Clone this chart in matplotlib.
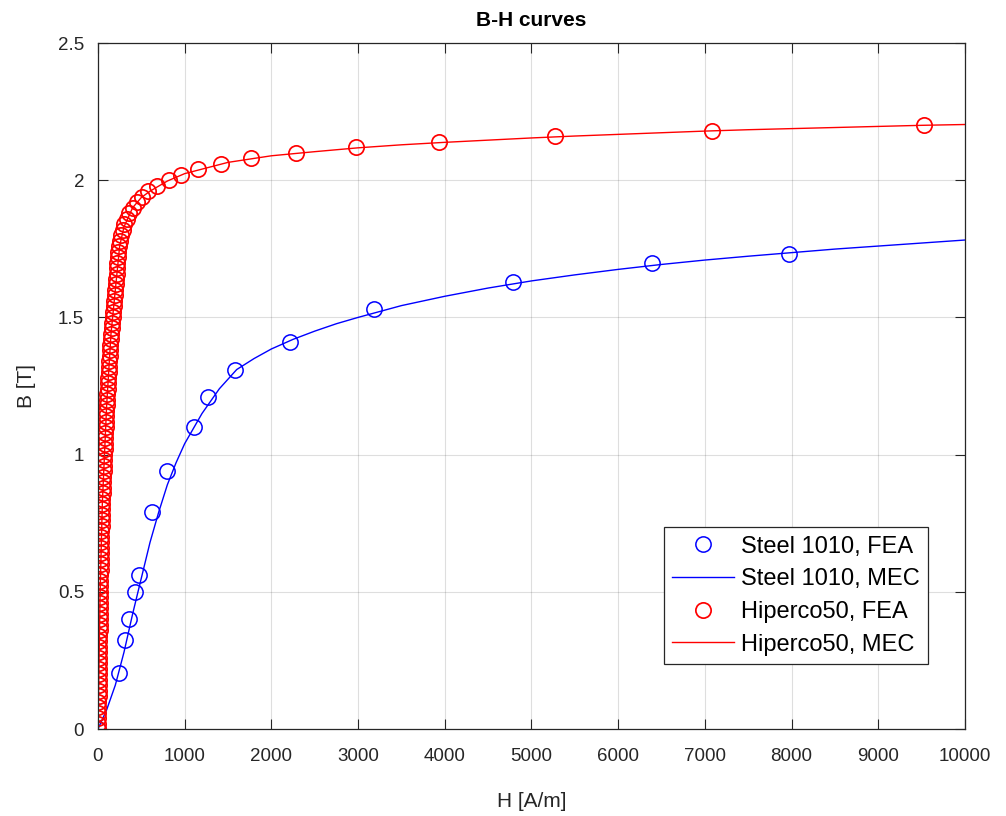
import numpy as np
import matplotlib
matplotlib.use("Agg")
import matplotlib.pyplot as plt

# Steel 1010, FEA points
steel_fea_h = [0, 242, 312, 358, 427, 473, 624, 797, 1109, 1270, 1582, 2217, 3187, 4792, 6386, 7968]
steel_fea_b = [0, 0.204, 0.324, 0.40, 0.50, 0.56, 0.79, 0.94, 1.10, 1.21, 1.31, 1.41, 1.53, 1.63, 1.70, 1.73]

# Steel 1010, MEC curve
steel_mec_h = [0, 100, 200, 300, 400, 500, 600, 700, 800, 900, 1000, 1200, 1400, 1600, 1800,
               2000, 2250, 2500, 2750, 3000, 3500, 4000, 4500, 5000, 5500, 6000, 6500, 7000,
               7500, 8000, 8500, 9000, 9500, 10000]
steel_mec_b = [0, 0.07, 0.16, 0.28, 0.42, 0.55, 0.68, 0.79, 0.89, 0.97, 1.04, 1.15, 1.24, 1.31, 1.35,
               1.385, 1.42, 1.45, 1.477, 1.50, 1.543, 1.577, 1.607, 1.633, 1.655, 1.675, 1.693, 1.709,
               1.723, 1.736, 1.749, 1.76, 1.771, 1.782]

# Hiperco50, FEA points (B in 0.02 T steps)
hip_fea_b = [round(0.02 * k, 2) for k in range(111)]
hip_fea_h = [0, 1, 2, 3, 4, 5, 6, 7, 8, 9,
             10, 11, 12, 13, 14, 15, 16, 17, 18, 19,
             20, 21, 22, 23, 24, 25, 26, 27, 28, 30,
             31, 33, 34, 36, 37, 39, 40, 42, 44, 46,
             48, 50, 52, 54, 57, 59, 62, 64, 67, 70,
             73, 76, 79, 82, 86, 89, 92, 95, 98, 101,
             105, 108, 111, 115, 119, 123, 127, 131, 135, 139,
             143, 148, 153, 158, 163, 169, 175, 182, 190, 195,
             200, 205, 210, 215, 220, 225, 231, 236, 242, 254,
             268, 285, 305, 330, 360, 400, 450, 510, 580, 680,
             820, 958, 1155, 1417, 1767, 2283, 2979, 3938, 5266, 7079,
             9527]

# Hiperco50, MEC curve
hip_mec_h = [0, 25, 50, 100, 150, 200, 250, 300, 400, 500, 600, 800, 1000, 1500, 2000,
             2500, 3000, 3500, 4000, 4500, 5000, 5500, 6000, 6500, 7000, 7500, 8000, 8500,
             9000, 9500, 10000]
hip_mec_b = [0, 0.50, 0.82, 1.18, 1.44, 1.60, 1.76, 1.83, 1.90, 1.937, 1.96, 1.997, 2.024, 2.065, 2.089,
             2.104, 2.118, 2.129, 2.138, 2.146, 2.154, 2.161, 2.167, 2.173, 2.179, 2.184, 2.188, 2.192,
             2.196, 2.200, 2.203]

x_ticks = list(range(0, 10001, 1000))
y_ticks = [0, 0.5, 1, 1.5, 2, 2.5]
y_tick_labels = ["0", "0.5", "1", "1.5", "2", "2.5"]

plt.rcParams['font.family'] = ['Liberation Sans', 'DejaVu Sans']
dark = '#262626'

fig = plt.figure(figsize=(10.06, 8.16), dpi=100)
ax = fig.add_axes([0.0974, 0.1066, 0.8618, 0.8407])

ax.plot(steel_fea_h, steel_fea_b, 'o', ms=11, mfc='none', mec='blue', mew=1.1, label='Steel 1010, FEA')
ax.plot(steel_mec_h, steel_mec_b, '-', color='blue', lw=1.0, label='Steel 1010, MEC')
ax.plot(hip_fea_h, hip_fea_b, 'o', ms=11, mfc='none', mec='red', mew=1.25, label='Hiperco50, FEA')
ax.plot(hip_mec_h, hip_mec_b, '-', color='red', lw=1.0, label='Hiperco50, MEC')

ax.set_xlim(0, 10000)
ax.set_ylim(0, 2.5)
ax.set_xticks(x_ticks)
ax.set_xticklabels([str(t) for t in x_ticks])
ax.set_yticks(y_ticks)
ax.set_yticklabels(y_tick_labels)

ax.grid(True, color='#262626', alpha=0.15, lw=0.8)
ax.tick_params(direction='in', length=7, width=0.8, top=True, right=True,
               labelsize=13.5, colors=dark)
ax.tick_params(axis='x', pad=14)
ax.tick_params(axis='y', pad=10)
for s in ax.spines.values():
    s.set_color(dark)
    s.set_linewidth(0.9)

ax.set_xlabel('H [A/m]', fontsize=15, color=dark, labelpad=19)
ax.set_ylabel('B [T]', fontsize=15, color=dark, labelpad=16)
ax.set_title('B-H curves', fontsize=15, fontweight='bold', color='black', pad=12)

leg = ax.legend(loc='lower right', bbox_to_anchor=(0.957, 0.095), borderaxespad=0,
                fontsize=17, fancybox=False, framealpha=1, edgecolor=dark,
                handlelength=2.6, handletextpad=0.3, borderpad=0.35, labelspacing=0.45)
leg.get_frame().set_linewidth(0.9)

fig.savefig('out.png', dpi=100)
